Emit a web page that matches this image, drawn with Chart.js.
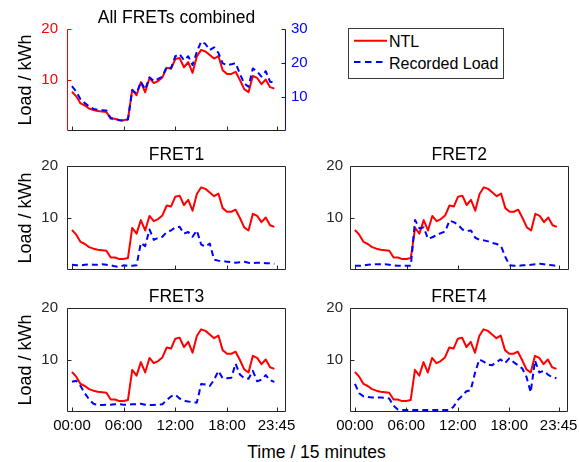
<!DOCTYPE html>
<html>
<head>
<meta charset="utf-8">
<script src="https://cdn.jsdelivr.net/npm/chart.js@4.4.0/dist/chart.umd.min.js"></script>
<style>
  body { margin: 0; background: #fff; width: 579px; height: 462px; position: relative; overflow: hidden;
         font-family: 'Liberation Sans', Arial, sans-serif; }
  canvas { position: absolute; }
  #legend { position: absolute; left: 348px; top: 28px; width: 156px; height: 51px; box-sizing: border-box;
            border: 1px solid #3a3a3a; background: #fff; }
  #legend span { position: absolute; left: 40px; font-size: 16px; line-height: 16px; color: #000; white-space: nowrap; }
  #legend svg { position: absolute; left: 0; top: 0; }
  #xlabel { position: absolute; left: 0; width: 633px; top: 442px; text-align: center; font-size: 17.5px;
            line-height: 20px; color: #000; }
</style>
</head>
<body>
<canvas id="cAll" width="320" height="140" style="left:0;top:0;width:320px;height:140px"></canvas>
<canvas id="c1" width="300" height="140" style="left:0;top:140px;width:300px;height:140px"></canvas>
<canvas id="c2" width="279" height="140" style="left:300px;top:140px;width:279px;height:140px"></canvas>
<canvas id="c3" width="300" height="160" style="left:0;top:280px;width:300px;height:160px"></canvas>
<canvas id="c4" width="279" height="160" style="left:300px;top:280px;width:279px;height:160px"></canvas>

<div id="legend">
  <svg width="154" height="49">
    <line x1="5" y1="11.7" x2="38" y2="11.7" stroke="#ff0000" stroke-width="2"/>
    <line x1="5" y1="33" x2="38" y2="33" stroke="#0000ff" stroke-width="2" stroke-dasharray="6.5,4.5"/>
  </svg>
  <span style="top:4.8px">NTL</span>
  <span style="top:26.5px">Recorded Load</span>
</div>
<div id="xlabel">Time / 15 minutes</div>

<script>
// half-hour slots, in 15-minute steps
const slots = [0,2,4,6,8,10,12,14,16,18,20,22,24,26,28,30,32,34,36,38,40,42,44,46,
               48,50,52,54,56,58,60,62,64,66,68,70,72,74,76,78,80,82,84,86,88,90,92,94];
const tickSlots = [0, 24, 48, 72, 95];
const tickLabels = ['00:00', '06:00', '12:00', '18:00', '23:45'];

const ntl = [7.7,6.8,5.4,5.0,4.4,4.1,3.9,3.8,3.7,2.4,2.4,2.1,2.1,2.3,8.1,7.0,9.6,7.6,10.4,9.4,
             9.8,10.5,12.4,12.2,14.1,14.3,12.5,13.5,11.4,14.6,15.9,15.6,14.9,14.2,14.7,11.9,11.2,11.2,11.6,10.0,
             8.2,7.6,10.8,10.4,9.2,10.1,8.6,8.3];
const recordedAll = [13.2,11.6,9.3,8.2,7.2,6.5,6.2,6.1,6.0,3.8,3.6,3.2,3.0,3.4,12.0,11.0,14.5,12.2,15.8,14.7,
                     15.3,16.0,18.9,18.5,22.0,22.6,20.8,22.0,19.4,23.3,26.3,25.6,23.8,24.6,23.0,19.9,19.4,19.6,20.0,16.8,
                     14.0,13.0,18.4,17.5,16.0,17.6,14.5,14.2];
const recordedF1 = [1.0,0.9,0.9,1.0,1.1,1.0,1.0,1.1,1.0,0.9,0.7,0.6,0.9,0.8,0.8,0.9,5.2,4.6,7.8,5.8,
                    6.2,6.4,7.3,7.6,8.2,8.3,7.0,7.3,6.4,7.6,4.9,4.5,5.1,2.0,1.8,1.7,1.6,1.5,1.4,1.5,
                    1.6,1.4,1.3,1.4,1.4,1.3,1.3,1.2];
const recordedF2 = [0.8,0.8,0.9,1.0,1.1,1.1,1.1,1.1,1.0,0.9,0.8,0.8,0.8,0.8,9.6,8.0,8.2,6.0,6.3,6.7,
                    7.1,7.4,9.5,9.2,8.7,7.8,7.5,7.6,6.2,5.8,5.7,5.5,5.2,5.0,4.6,2.5,0.9,0.8,0.8,0.9,
                    0.9,1.0,1.1,1.2,1.1,1.0,0.9,0.8];
const recordedF3 = [5.8,6.0,5.0,3.6,2.4,1.6,1.35,1.35,1.4,1.4,1.5,1.5,1.4,1.4,1.5,1.5,1.6,1.4,1.35,1.35,
                    1.4,1.5,2.3,3.0,3.3,2.6,2.2,2.0,1.9,1.8,5.4,5.3,5.0,6.2,7.9,6.5,6.5,6.6,9.3,7.2,
                    6.5,6.4,7.9,5.9,6.2,7.1,6.1,5.8];
const recordedF4 = [5.4,3.6,3.0,2.9,2.8,2.8,2.8,2.7,2.6,1.2,0.5,0.4,0.4,0.4,0.4,0.4,0.4,0.4,0.4,0.4,
                    0.4,0.4,0.4,1.0,2.3,3.1,4.0,4.2,7.5,10.1,9.7,9.1,9.0,9.6,10.1,9.4,10.3,9.6,9.0,8.4,
                    6.8,3.8,9.9,7.6,7.9,7.2,6.7,6.5];

const leftTicks = [10, 20];
const rightTicks = [10, 20, 30];

Chart.defaults.font.family = "'Liberation Sans', Arial, sans-serif";
Chart.defaults.animation = false;

const AXIS = '#262626';
const RED = '#ff0000';
const BLUE = '#0000ff';

const toPoints = arr => arr.map((v, i) => ({ x: slots[i], y: v }));

// no edge padding from tick labels, so the plot box lands where we want it
const noPad = s => { s.paddingTop = 0; s.paddingBottom = 0; s.paddingLeft = 0; s.paddingRight = 0; };

// box + inward ticks, matlab style
const framePlugin = {
  id: 'frame',
  afterDatasetsDraw(chart, args, opts) {
    const { ctx, chartArea: a } = chart;
    const L = Math.round(a.left) + 0.5, R = Math.round(a.right) - 0.5;
    const T = Math.round(a.top) + 0.5, B = Math.round(a.bottom) - 0.5;
    ctx.save();
    ctx.lineWidth = 1;
    const seg = (x1, y1, x2, y2, c) => {
      ctx.strokeStyle = c; ctx.beginPath(); ctx.moveTo(x1, y1); ctx.lineTo(x2, y2); ctx.stroke();
    };
    if (opts.top) seg(L, T, R, T, opts.top);
    seg(L, B, R, B, opts.bottom);
    seg(L, T, L, B, opts.left);
    seg(R, T, R, B, opts.right);
    const xs = chart.scales.x;
    tickSlots.forEach(v => {
      const px = Math.round(xs.getPixelForValue(v)) + 0.5;
      seg(px, B, px, B - 4, opts.bottom);
    });
    const ys = chart.scales.y;
    leftTicks.forEach(v => {
      const py = Math.round(ys.getPixelForValue(v)) + 0.5;
      seg(L, py, L + 4, py, opts.left);
    });
    if (chart.scales.y1) {
      const y1 = chart.scales.y1;
      rightTicks.forEach(v => {
        const py = Math.round(y1.getPixelForValue(v)) + 0.5;
        seg(R, py, R - 4, py, opts.right);
      });
    }
    ctx.restore();
  }
};

function makePanel(id, cfg) {
  const scales = {
    x: {
      type: 'linear', min: -2.3, max: 99.4,
      grid: { display: false, drawTicks: false, tickLength: 0 }, border: { display: false },
      afterBuildTicks: s => { s.ticks = tickSlots.map(v => ({ value: v })); },
      ticks: {
        display: cfg.showX, padding: 5, color: '#000', font: { size: 15 },
        autoSkip: false, maxRotation: 0,
        callback: v => tickLabels[tickSlots.indexOf(v)]
      },
      afterFit: s => { s.height = cfg.xHeight; noPad(s); }
    },
    y: {
      position: 'left', min: 0, max: 20,
      grid: { display: false, drawTicks: false, tickLength: 0 }, border: { display: false },
      afterBuildTicks: s => { s.ticks = leftTicks.map(v => ({ value: v })); },
      ticks: { padding: cfg.yPad, color: cfg.leftColor, font: { size: 15 } },
      title: {
        display: cfg.yTitle, text: 'Load / kWh', color: '#000',
        font: { size: 18 }, padding: { top: 15.5, bottom: 0 }
      },
      afterFit: s => { s.width = cfg.yWidth; noPad(s); }
    }
  };
  if (cfg.twin) {
    scales.y1 = {
      position: 'right', min: 0, max: 30,
      grid: { display: false, drawTicks: false, tickLength: 0 }, border: { display: false },
      afterBuildTicks: s => { s.ticks = rightTicks.map(v => ({ value: v })); },
      ticks: { padding: 5, color: BLUE, font: { size: 15 } },
      afterFit: s => { s.width = 34; noPad(s); }
    };
  }
  return new Chart(document.getElementById(id), {
    type: 'line',
    data: {
      datasets: [
        { label: 'NTL', data: toPoints(ntl), borderColor: RED, borderWidth: 2,
          pointRadius: 0, borderJoinStyle: 'round', order: 1, yAxisID: 'y' },
        { label: 'Recorded Load', data: toPoints(cfg.recorded), borderColor: BLUE, borderWidth: 2,
          borderDash: [6, 4], pointRadius: 0, borderJoinStyle: 'round', order: 0,
          yAxisID: cfg.twin ? 'y1' : 'y' }
      ]
    },
    options: {
      responsive: false,
      devicePixelRatio: 1,
      layout: { autoPadding: false, padding: { left: 0, right: cfg.padRight, top: 0, bottom: 0 } },
      scales,
      plugins: {
        legend: { display: false },
        tooltip: { enabled: false },
        title: {
          display: true, text: cfg.title, fullSize: false, color: '#000',
          font: { size: 17.5, weight: 'normal' },
          padding: { top: cfg.titleTop, bottom: cfg.titleBottom }
        },
        frame: cfg.frame
      }
    },
    plugins: [framePlugin]
  });
}

const box = { top: AXIS, bottom: AXIS, left: AXIS, right: AXIS };

makePanel('cAll', {
  title: 'All FRETs combined', recorded: recordedAll, twin: true,
  showX: false, xHeight: 9, yWidth: 67, yPad: 9, yTitle: true, padRight: 0,
  leftColor: RED, titleTop: 7.5, titleBottom: 0.5,
  frame: { top: null, bottom: AXIS, left: RED, right: BLUE }
});
makePanel('c1', {
  title: 'FRET1', recorded: recordedF1, showX: false, xHeight: 10, yWidth: 67, yPad: 9,
  yTitle: true, padRight: 14, leftColor: AXIS, titleTop: 4.2, titleBottom: 0.8, frame: box
});
makePanel('c2', {
  title: 'FRET2', recorded: recordedF2, showX: false, xHeight: 10, yWidth: 50, yPad: 7,
  yTitle: false, padRight: 10.5, leftColor: AXIS, titleTop: 4.2, titleBottom: 0.8, frame: box
});
makePanel('c3', {
  title: 'FRET3', recorded: recordedF3, showX: true, xHeight: 28, yWidth: 67, yPad: 9,
  yTitle: true, padRight: 14, leftColor: AXIS, titleTop: 7, titleBottom: 0, frame: box
});
makePanel('c4', {
  title: 'FRET4', recorded: recordedF4, showX: true, xHeight: 28, yWidth: 50, yPad: 7,
  yTitle: false, padRight: 11, leftColor: AXIS, titleTop: 7, titleBottom: 0, frame: box
});
</script>
</body>
</html>
